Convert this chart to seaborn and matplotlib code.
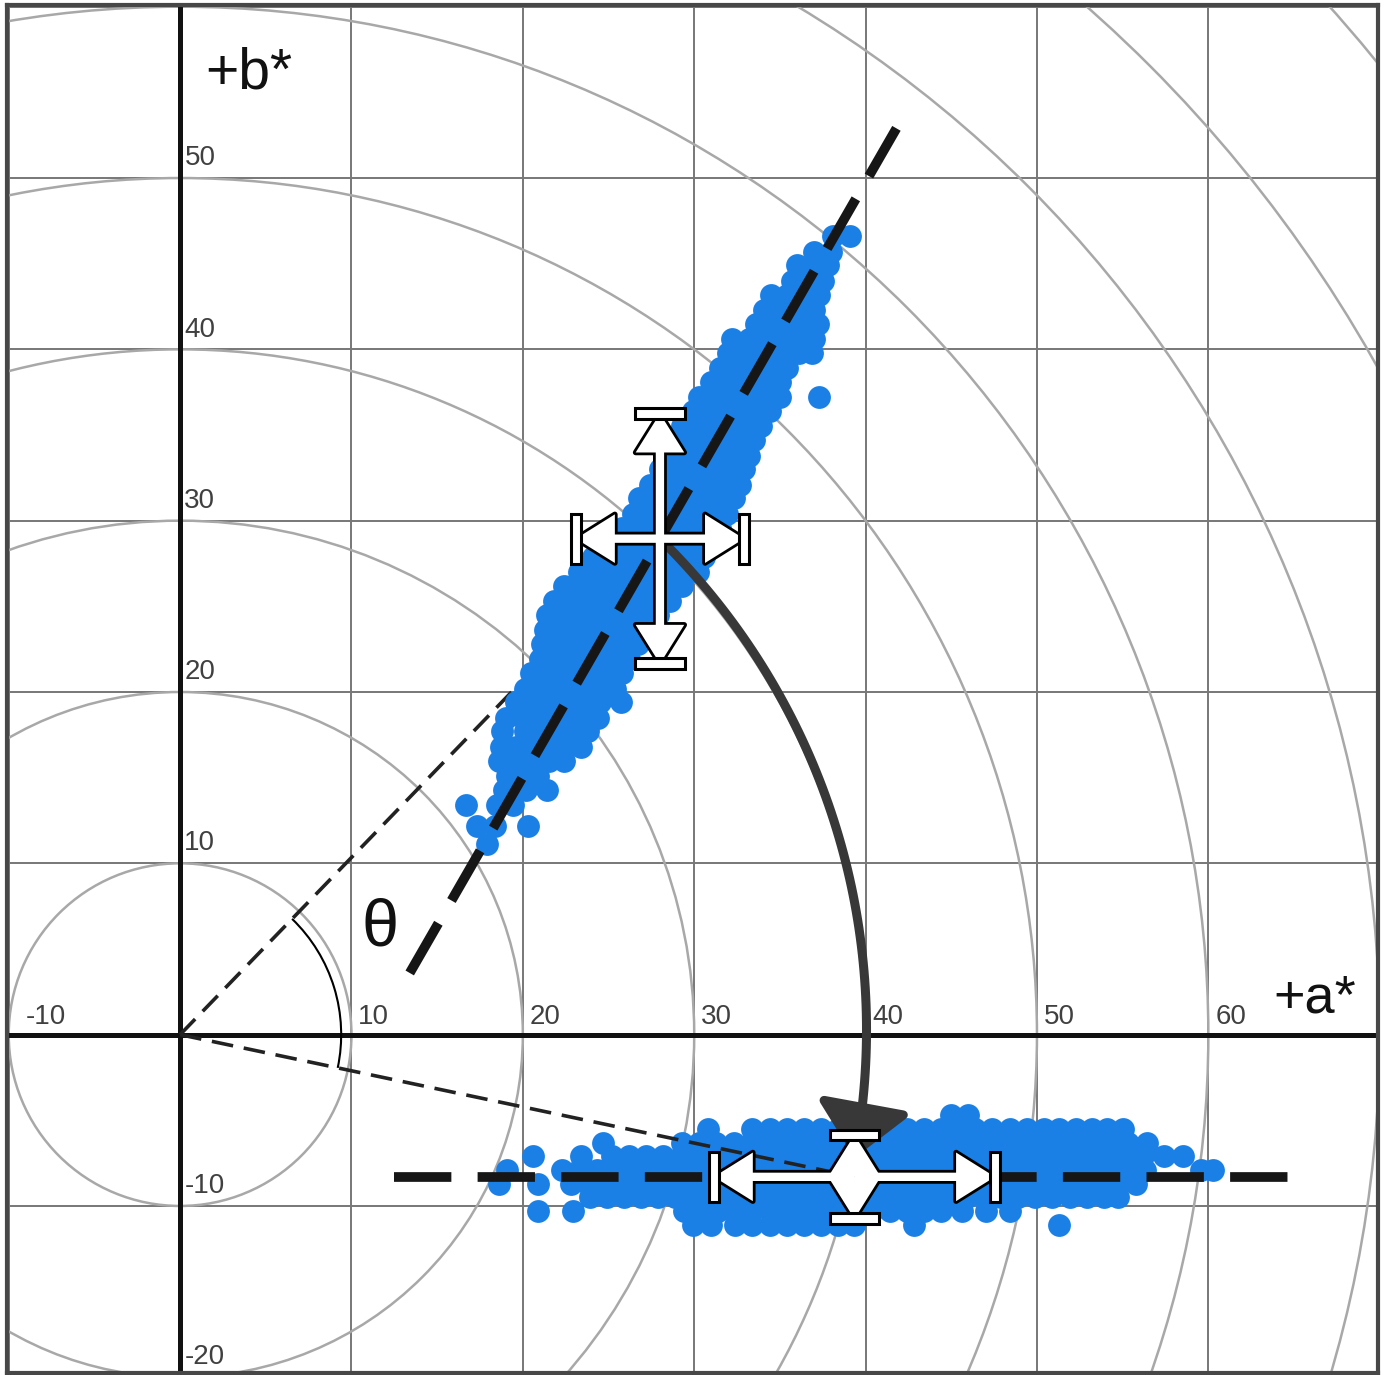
import numpy as np
import pandas as pd
import seaborn as sns
import matplotlib
matplotlib.use('Agg')
import matplotlib.pyplot as plt
from matplotlib.patches import Circle, Arc, Rectangle, FancyArrowPatch
from matplotlib.path import Path

# grid lines, tick labels and chroma rings
grid_a = [-10, 0, 10, 20, 30, 40, 50, 60, 70]
grid_b = [-20, -10, 0, 10, 20, 30, 40, 50, 60]
a_tick_vals = [-10, 10, 20, 30, 40, 50, 60]
b_tick_vals = [50, 40, 30, 20, 10, -10, -20]
chroma_rings = [10, 20, 30, 40, 50, 60, 70, 80, 90]

# cloud before rotation: b* level -> a* values read on that level
upper_rows = {
    46.6: [38.1, 39.1],
    45.7: [37.0, 38.0],
    44.9: [36.0, 36.9, 37.8],
    44.0: [35.7, 36.7, 37.5],
    43.2: [34.5, 35.4, 36.4, 37.3],
    42.3: [34.1, 35.0, 36.0, 37.0],
    41.5: [33.6, 34.6, 35.6, 36.6, 37.2],
    40.6: [32.2, 33.2, 34.1, 35.1, 36.1, 37.0],
    39.8: [32.0, 33.1, 34.1, 35.1, 36.1, 36.9],
    38.9: [31.5, 32.5, 33.5, 34.5, 35.4],
    38.1: [31.0, 32.0, 33.0, 34.0, 35.0],
    37.2: [30.3, 31.3, 32.3, 33.3, 34.3, 35.0, 37.3],
    36.4: [29.9, 30.8, 31.8, 32.8, 33.8, 34.4],
    35.5: [29.3, 30.2, 31.2, 32.2, 33.2, 33.9],
    34.7: [28.8, 29.7, 30.7, 31.7, 32.7, 33.5],
    33.8: [28.4, 29.3, 30.3, 31.3, 32.3, 33.2],
    33.0: [28.0, 28.9, 29.9, 30.9, 31.9, 32.9],
    32.1: [27.4, 28.3, 29.3, 30.3, 31.3, 32.3, 32.7],
    31.3: [26.8, 27.7, 28.7, 29.7, 30.7, 31.7, 32.3],
    30.4: [26.4, 27.3, 28.3, 29.3, 30.3, 31.3, 31.9],
    29.6: [25.8, 26.7, 27.7, 28.7, 29.7, 30.7, 31.5],
    28.7: [25.1, 26.0, 27.0, 28.0, 29.0, 30.0, 30.8],
    27.9: [24.1, 25.0, 26.0, 27.0, 28.0, 29.0, 30.0, 30.6],
    27.0: [23.3, 24.2, 25.2, 26.2, 27.2, 28.2, 29.2, 30.2],
    26.2: [22.4, 23.3, 24.3, 25.3, 26.3, 27.3, 28.3, 29.3],
    25.3: [21.8, 22.7, 23.7, 24.7, 25.7, 26.7, 27.7, 28.6],
    24.5: [21.4, 22.3, 23.3, 24.3, 25.3, 26.3, 27.3, 27.9],
    23.6: [21.3, 22.2, 23.2, 24.2, 25.2, 26.2, 27.2],
    22.8: [21.1, 22.0, 23.0, 24.0, 25.0, 26.0, 26.7],
    21.9: [21.0, 21.9, 22.9, 23.9, 24.9, 25.9, 26.2],
    21.1: [20.5, 21.4, 22.4, 23.4, 24.4, 25.4, 25.8],
    20.2: [20.1, 21.0, 22.0, 23.0, 24.0, 25.0, 25.4],
    19.4: [19.6, 20.5, 21.5, 22.5, 23.5, 24.5, 25.7],
    18.5: [19.0, 20.0, 21.0, 22.0, 23.0, 24.0, 24.4],
    17.7: [18.8, 20.1, 21.1, 22.1, 23.1, 23.8],
    16.8: [18.7, 19.6, 20.6, 21.6, 22.6, 23.4],
    16.0: [18.6, 19.5, 20.5, 21.5, 22.4],
    15.1: [19.1, 20.0, 20.9],
    14.3: [18.9, 20.2, 21.4],
    13.4: [16.7, 18.5, 19.4],
    12.2: [17.3, 18.4, 20.3],
    11.1: [17.9],
}

# cloud after rotation onto the -b* side
lower_rows = {
    -4.7: [45.0, 46.0],
    -5.5: [30.8, 33.4, 34.4, 35.4, 36.4, 37.4, 38.4, 39.4, 40.4, 41.4, 42.4, 43.4,
           44.4, 45.4, 46.4, 47.4, 48.4, 49.4, 50.4, 51.3, 52.3, 53.2, 54.1, 55.0],
    -6.3: [24.7, 29.3, 30.3, 31.3, 32.3, 33.3, 34.3, 35.3, 36.3, 37.3, 38.3, 39.3,
           40.3, 41.3, 42.3, 43.3, 44.3, 45.3, 46.3, 47.3, 48.3, 49.3, 50.3, 51.3,
           52.3, 53.3, 54.3, 55.3, 56.4],
    -7.1: [20.6, 23.4, 25.2, 26.2, 27.2, 28.2, 29.2, 30.2, 31.2, 32.2, 33.2, 34.2,
           35.2, 36.2, 37.2, 38.2, 39.2, 40.2, 41.2, 42.2, 43.2, 44.2, 45.2, 46.2,
           47.2, 48.2, 49.2, 50.2, 51.2, 52.2, 53.2, 54.2, 55.2, 56.2, 57.4, 58.5],
    -7.9: [19.1, 22.3, 23.3, 24.3, 25.3, 26.3, 27.3, 28.3, 29.3, 30.3, 31.3, 32.3,
           33.3, 34.3, 35.3, 36.3, 37.3, 38.3, 39.3, 40.3, 41.3, 42.3, 43.3, 44.3,
           45.3, 46.3, 47.3, 48.3, 49.3, 50.3, 51.3, 52.3, 53.3, 54.3, 55.3, 56.3,
           59.6, 60.3],
    -8.7: [18.6, 20.9, 22.8, 23.8, 24.8, 25.8, 26.8, 27.8, 28.8, 29.8, 30.8, 31.8,
           32.8, 33.8, 34.8, 35.8, 36.8, 37.8, 38.8, 39.8, 40.8, 41.8, 42.8, 43.8,
           44.8, 45.8, 46.8, 47.8, 48.8, 49.8, 50.8, 51.8, 52.8, 53.8, 54.8, 55.8],
    -9.5: [23.9, 24.9, 25.9, 26.9, 27.9, 28.9, 29.9, 30.9, 31.9, 32.9, 33.9, 34.9,
           35.9, 36.9, 37.9, 38.9, 39.9, 40.9, 41.9, 42.9, 43.9, 44.9, 45.9, 46.9,
           47.9, 48.9, 49.9, 50.9, 51.9, 52.9, 53.9, 54.7],
    -10.3: [20.9, 22.9, 29.4, 30.4, 31.4, 32.4, 33.4, 34.4, 35.4, 36.4, 37.4, 38.4,
            39.4, 40.4, 41.4, 42.4, 43.4, 44.4, 45.6, 47.0, 48.4],
    -11.1: [29.9, 31.0, 32.4, 33.4, 34.4, 35.4, 36.4, 37.4, 38.4, 39.3, 42.8, 51.3],
}

# means and spreads (a*, b*)
upper_mean = [28.0, 28.95]
upper_sd = [4.9, 7.3]
lower_mean = [39.35, -8.3]
lower_sd = [8.2, 2.45]

# dashed fit lines
upper_line_a = [13.4, 41.8]
upper_line_b = [3.6, 52.9]
lower_line_a = [12.5, 65.7]
lower_line_b = [-8.3, -8.3]

angle_arc_radius = 9.4

records = []
for name, rows in [('upper', upper_rows), ('lower', lower_rows)]:
    for b, a_vals in rows.items():
        for a in a_vals:
            records.append({'group': name, 'a': a, 'b': b})
df = pd.DataFrame(records)

sns.set_theme(style='white')
plt.rcParams['font.family'] = ['Liberation Sans', 'DejaVu Sans']

fig = plt.figure(figsize=(13.88, 13.75), dpi=100)
ax = fig.add_axes([7 / 1388, 2 / 1375, 1371 / 1388, 1368 / 1375])

# grid + rings
ax.set_xticks(grid_a)
ax.set_yticks(grid_b)
ax.grid(True, color='#777777', lw=1.4)
ax.set_axisbelow(True)
ax.tick_params(length=0, labelbottom=False, labelleft=False)
for r in chroma_rings:
    ax.add_patch(Circle((0, 0), r, fill=False, ec='#a8a8a8', lw=1.8, zorder=1))
ax.axhline(0, color='#111111', lw=3.6, zorder=2)
ax.axvline(0, color='#111111', lw=3.6, zorder=2)

for side in ax.spines.values():
    side.set_color('#474747')
    side.set_linewidth(3)

# thin dashed hue lines + angle arc
ax.plot([0, upper_mean[0]], [0, upper_mean[1]], color='#222222', lw=2.6,
        dashes=(6, 3), zorder=2.5)
ax.plot([0, lower_mean[0]], [0, lower_mean[1]], color='#222222', lw=2.6,
        dashes=(6, 3), zorder=3.5)
t_up = np.degrees(np.arctan2(upper_mean[1], upper_mean[0]))
t_lo = np.degrees(np.arctan2(lower_mean[1], lower_mean[0]))
ax.add_patch(Arc((0, 0), 2 * angle_arc_radius, 2 * angle_arc_radius,
                 theta1=t_lo, theta2=t_up, color='black', lw=1.5, zorder=4))

# the points
sns.scatterplot(data=df, x='a', y='b', color='#1a80e6', s=270, linewidth=0,
                ax=ax, zorder=3, legend=False)
ax.set_xlabel('')
ax.set_ylabel('')

# fit lines
ax.plot(upper_line_a, upper_line_b, color='#161616', lw=7, dashes=(5.9, 2.7), zorder=4)
ax.plot(lower_line_a, lower_line_b, color='#161616', lw=7, dashes=(5.9, 2.7), zorder=4)

# curved rotation arrow
r0 = np.hypot(*upper_mean)
a0 = np.arctan2(upper_mean[1], upper_mean[0])
end = (lower_mean[0], lower_mean[1] + 1.1)
r1 = np.hypot(*end)
a1 = np.arctan2(end[1], end[0])
tt = np.linspace(a0, a1, 80)
rr = np.linspace(r0, r1, 80)
verts = np.column_stack([rr * np.cos(tt), rr * np.sin(tt)])
ax.add_patch(FancyArrowPatch(path=Path(verts),
                             arrowstyle='-|>,head_length=32,head_width=29',
                             mutation_scale=1, color='#383838', lw=6.5, zorder=5))


def draw_cross(ax, mean, sd):
    cx, cy = mean
    tips = [(cx + sd[0], cy), (cx - sd[0], cy), (cx, cy + sd[1]), (cx, cy - sd[1])]
    style = 'simple,head_length=28,head_width=35,tail_width=6'
    for fc, lw, z in [('black', 4.0, 6), ('white', 0.0, 6.1)]:
        for tip in tips:
            ax.add_patch(FancyArrowPatch((cx, cy), tip, arrowstyle=style,
                                         mutation_scale=1, shrinkA=0, shrinkB=0,
                                         fc=fc, ec=fc, lw=lw, zorder=z))
    for i, tip in enumerate(tips):
        w, h = (0.62, 2.9) if i < 2 else (2.9, 0.62)
        ax.add_patch(Rectangle((tip[0] - w / 2, tip[1] - h / 2), w, h,
                               fc='white', ec='black', lw=2.2, zorder=6.2))


draw_cross(ax, upper_mean, upper_sd)
draw_cross(ax, lower_mean, lower_sd)

# labels
for v in a_tick_vals:
    x = v + 0.4 if v > 0 else v + 1.0
    ax.text(x, 0.6, str(v), fontsize=20, color='#404040', ha='left', va='baseline', zorder=8)
for v in b_tick_vals:
    ax.text(0.25, v + 0.75, str(v), fontsize=20, color='#404040', ha='left', va='baseline', zorder=8)

ax.text(1.45, 55.2, '+b*', fontsize=41, color='#111111', va='baseline', zorder=8)
ax.text(63.8, 1.3, '+a*', fontsize=39, color='#111111', va='baseline', zorder=8)
ax.text(10.6, 5.2, 'θ', fontsize=48, color='#111111', va='baseline', zorder=8)

ax.set_xlim(-10.1, 69.9)
ax.set_ylim(-19.75, 60.1)

fig.savefig('out.png', dpi=100)
